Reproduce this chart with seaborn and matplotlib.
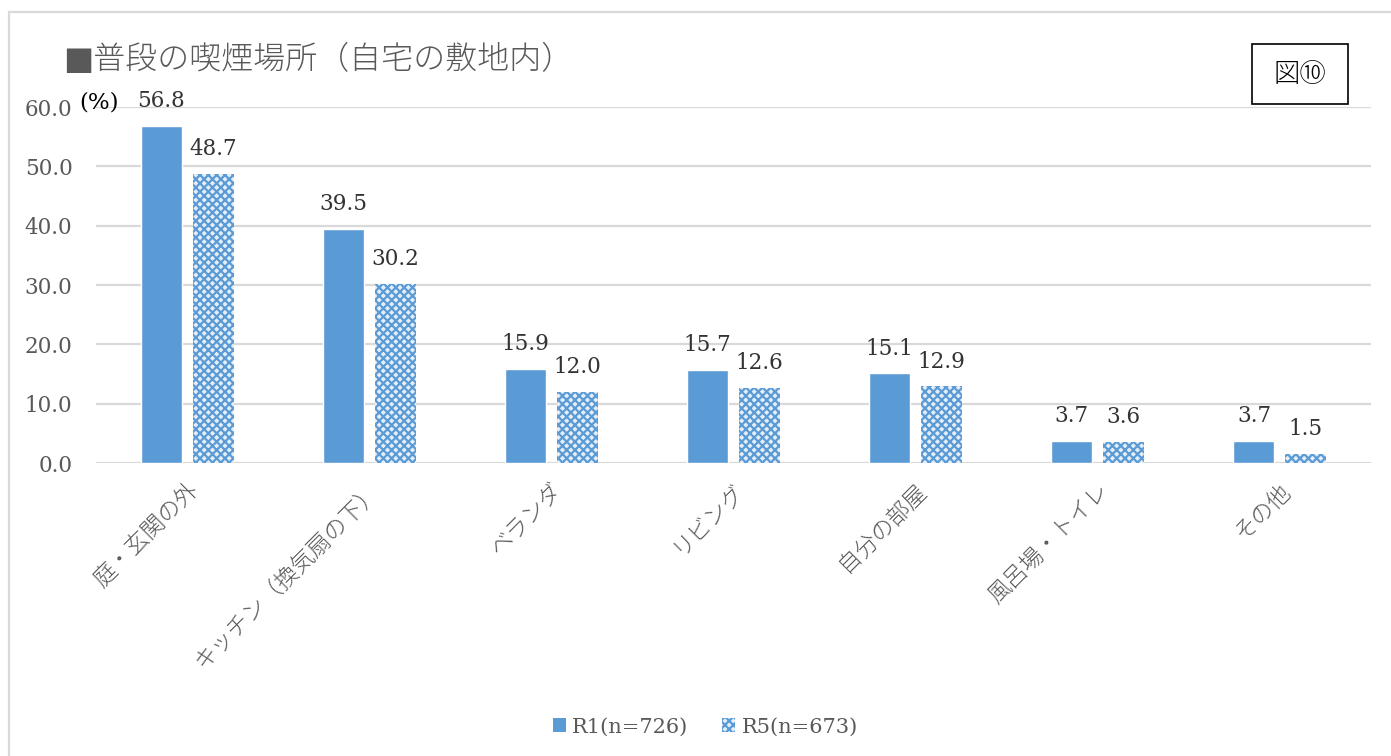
import matplotlib
matplotlib.use("Agg")
import matplotlib.pyplot as plt
import matplotlib.patches as mpatches
import pandas as pd
import seaborn as sns

categories = ["庭・玄関の外", "キッチン（換気扇の下）", "ベランダ", "リビング",
              "自分の部屋", "風呂場・トイレ", "その他"]
r1_values = [56.8, 39.5, 15.9, 15.7, 15.1, 3.7, 3.7]
r5_values = [48.7, 30.2, 12.0, 12.6, 12.9, 3.6, 1.5]
series_names = ["R1(n=726)", "R5(n=673)"]
y_ticks = [0, 10, 20, 30, 40, 50, 60]

sns.set_theme(style="white")
FONT = ["DejaVu Serif", "Noto Sans CJK JP", "DejaVu Sans"]
plt.rcParams["font.family"] = FONT
plt.rcParams["hatch.linewidth"] = 1.6

BLUE = "#5B9BD5"
GRID = "#d9d9d9"
TXT = "#595959"

df = pd.DataFrame({
    "場所": categories * 2,
    "値": r1_values + r5_values,
    "調査": [series_names[0]] * len(categories) + [series_names[1]] * len(categories),
})

W, H = 1391, 756
fig = plt.figure(figsize=(W / 100, H / 100), dpi=100)
ax = fig.add_axes([96 / W, 1 - 463 / H, (1371 - 96) / W, (463 - 107) / H])

sns.barplot(data=df, x="場所", y="値", hue="調査", order=categories,
            hue_order=series_names, palette=[BLUE, BLUE], width=0.57, gap=0.21,
            saturation=1, legend=False, ax=ax)

# second series: pale fill with blue cross-hatching
for p in ax.containers[1]:
    p.set_facecolor("#e4eef8")
    p.set_edgecolor(BLUE)
    p.set_hatch("xxxx")
    p.set_linewidth(0)

for cont in ax.containers:
    ax.bar_label(cont, fmt="%.1f", padding=10, fontsize=15.5, color="#333333",
                 family=FONT)

ax.set_ylim(0, 60)
ax.set_yticks(y_ticks)
ax.set_yticklabels([f"{v:.1f}" for v in y_ticks])
ax.set_xlim(-0.5, len(categories) - 0.5)
ax.yaxis.grid(True, color=GRID, linewidth=1.6)
ax.set_axisbelow(True)
for s in ax.spines.values():
    s.set_visible(False)
ax.tick_params(axis="y", length=0, pad=17, labelsize=15.5, labelcolor=TXT)
ax.tick_params(axis="x", length=0, pad=12, labelsize=16.5, labelcolor=TXT)
ax.set_xlabel("")
ax.set_ylabel("")
for lbl in ax.get_xticklabels():
    lbl.set_rotation(45)
    lbl.set_ha("right")
    lbl.set_rotation_mode("anchor")
    lbl.set_family(FONT)
    lbl.set_fontweight("light")

# title, unit, figure number
fig.text(63 / W, 1 - 60 / H, "■普段の喫煙場所（自宅の敷地内）", fontsize=23,
         color=TXT, va="center", ha="left", family=FONT, fontweight="light")
fig.text(79 / W, 1 - 103 / H, "(%)", fontsize=16.5, color="black",
         va="center", ha="left", family=FONT)
fig.patches.append(mpatches.Rectangle((1252 / W, 1 - 104 / H), 96 / W, 60 / H,
                                      transform=fig.transFigure, fill=False,
                                      edgecolor="black", linewidth=1.2))
fig.text(1300 / W, 1 - 74 / H, "図⑩", fontsize=19, color="black",
         va="center", ha="center", family=["Noto Sans CJK JP", "DejaVu Sans"],
         fontweight="light")

# outer chart frame
fig.patches.append(mpatches.Rectangle((9 / W, -0.1), 1.2, 1 - 12 / H + 0.1,
                                      transform=fig.transFigure, fill=False,
                                      edgecolor=GRID, linewidth=1.6))

handles = [
    mpatches.Patch(facecolor=BLUE, edgecolor=BLUE, linewidth=0),
    mpatches.Patch(facecolor="#e4eef8", edgecolor=BLUE, hatch="xxxx", linewidth=0),
]
fig.legend(handles, series_names, loc="center", bbox_to_anchor=(0.507, 1 - 727 / H),
           ncol=2, frameon=False, labelcolor=TXT, handlelength=0.65,
           handleheight=0.65, handletextpad=0.3, columnspacing=1.6,
           prop={"family": FONT, "size": 15})

fig.savefig("out.png", dpi=100, facecolor="white")
